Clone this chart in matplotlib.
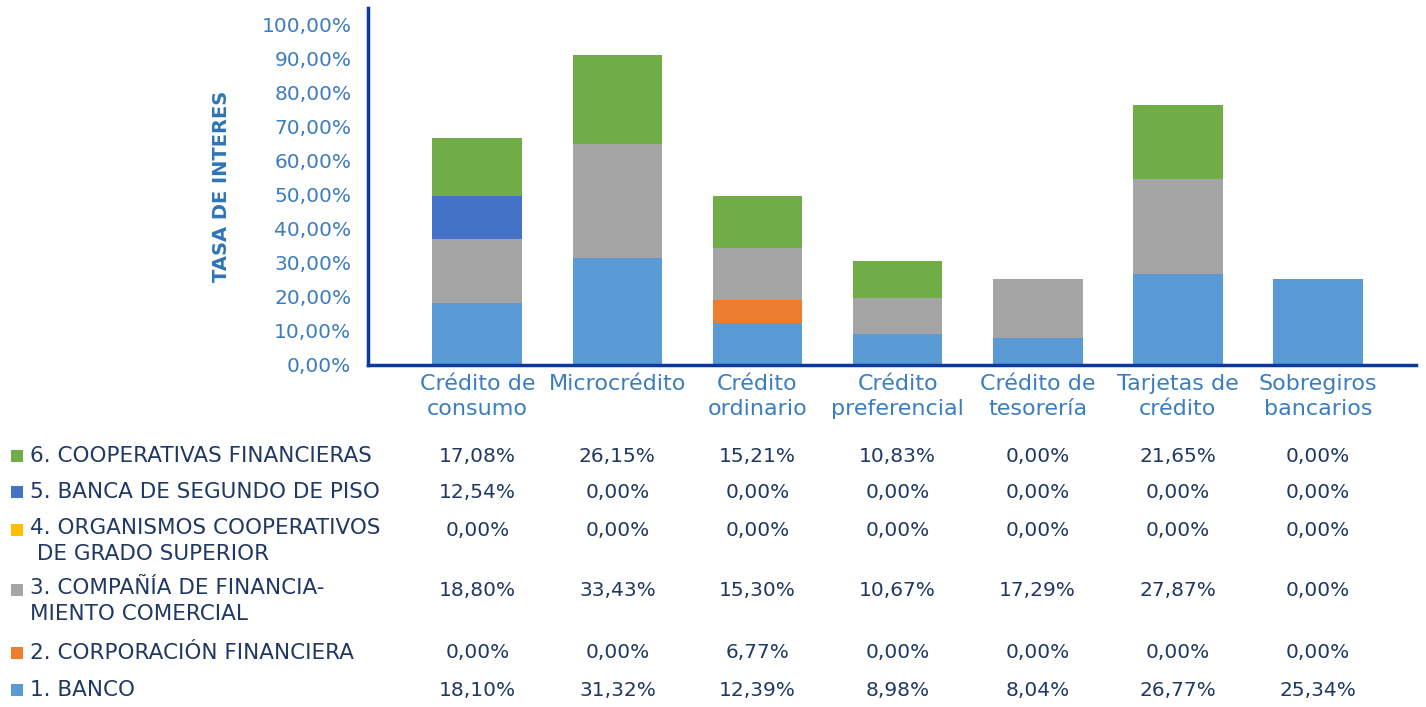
import matplotlib.pyplot as plt
import matplotlib.transforms as mtransforms
from matplotlib.patches import Rectangle
import numpy as np

plt.rcParams['font.family'] = ['DejaVu Sans']

categories = ['Crédito de\nconsumo', 'Microcrédito', 'Crédito\nordinario', 'Crédito\npreferencial',
              'Crédito de\ntesorería', 'Tarjetas de\ncrédito', 'Sobregiros\nbancarios']

# series, bottom to top of the stack (percent)
banco = [18.10, 31.32, 12.39, 8.98, 8.04, 26.77, 25.34]
corporacion = [0.00, 0.00, 6.77, 0.00, 0.00, 0.00, 0.00]
compania = [18.80, 33.43, 15.30, 10.67, 17.29, 27.87, 0.00]
organismos = [0.00, 0.00, 0.00, 0.00, 0.00, 0.00, 0.00]
segundo_piso = [12.54, 0.00, 0.00, 0.00, 0.00, 0.00, 0.00]
cooperativas = [17.08, 26.15, 15.21, 10.83, 0.00, 21.65, 0.00]

series = [
    ('1. BANCO', banco, '#5b9bd5'),
    ('2. CORPORACIÓN FINANCIERA', corporacion, '#ed7d31'),
    ('3. COMPAÑÍA DE FINANCIA-\nMIENTO COMERCIAL', compania, '#a5a5a5'),
    ('4. ORGANISMOS COOPERATIVOS\n DE GRADO SUPERIOR', organismos, '#ffc000'),
    ('5. BANCA DE SEGUNDO DE PISO', segundo_piso, '#4472c4'),
    ('6. COOPERATIVAS FINANCIERAS', cooperativas, '#70ad47'),
]

W, H = 1426, 707
fig = plt.figure(figsize=(W / 100, H / 100), dpi=100)
ax = fig.add_axes([368 / W, 1 - 365 / H, (1416 - 368) / W, (365 - 8) / H])

x = np.arange(len(categories))
bottom = np.zeros(len(categories))
for name, vals, color in series:
    ax.bar(x, vals, 0.64, bottom=bottom, color=color, zorder=2)
    bottom += np.array(vals)

ax.set_xlim(-0.78, 6.7)
ax.set_ylim(0, 104.7)
ax.set_yticks(np.arange(0, 101, 10))
ax.set_yticklabels([f'{v},00%' for v in range(0, 101, 10)])
ax.set_xticks([])
ax.tick_params(axis='y', length=0, pad=12, labelsize=14.5, labelcolor='#3b7dc0')
for s in ['top', 'right']:
    ax.spines[s].set_visible(False)
for s in ['left', 'bottom']:
    ax.spines[s].set_color('#0b3a9e')
    ax.spines[s].set_linewidth(2.5)
ax.set_ylabel('TASA DE INTERES', fontsize=14, fontweight='bold', color='#2e75b6', labelpad=22)

# category labels + table
tr = mtransforms.blended_transform_factory(ax.transData, fig.transFigure)
for i, c in enumerate(categories):
    ax.text(i, 1 - 374 / H, c, transform=tr, ha='center', va='top', fontsize=16,
            color='#3b7dc0', linespacing=1.3)

row_y = [690, 653, 590, 530, 492, 456]
for (name, vals, color), ypx in zip(series, row_y):
    yf = 1 - ypx / H
    two = '\n' in name
    fig.patches.append(Rectangle((11 / W, yf - 6 / H), 12 / W, 12 / H, transform=fig.transFigure,
                                 facecolor=color, edgecolor='none'))
    fig.text(30 / W, yf, name, ha='left', va='top' if two else 'center', fontsize=15.5,
             color='#1f3864', linespacing=1.4,
             transform=mtransforms.offset_copy(fig.transFigure, fig=fig, y=12 if two else 0, units='dots'))
    for i, v in enumerate(vals):
        ax.text(i, yf, f'{v:.2f}%'.replace('.', ','), transform=tr, ha='center', va='center',
                fontsize=14.5, color='#1f3864')

fig.savefig('out.png', dpi=100)
